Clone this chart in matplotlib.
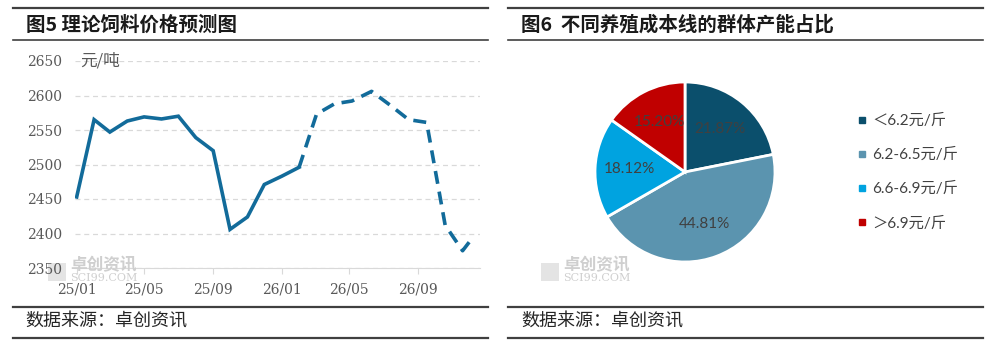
import matplotlib
matplotlib.use("Agg")
import matplotlib.pyplot as plt
import matplotlib.dates as mdates
from matplotlib.lines import Line2D
from matplotlib.patches import Rectangle
import pandas as pd

plt.rcParams["font.family"] = ["Noto Sans CJK SC", "DejaVu Sans"]

# %% data: 图5 理论饲料价格预测图 (元/吨)
actual_dates = [
    "2025-01-01", "2025-02-01", "2025-03-01", "2025-04-01", "2025-05-01",
    "2025-06-01", "2025-07-01", "2025-08-01", "2025-09-01", "2025-10-01",
    "2025-11-01", "2025-12-01", "2026-01-01", "2026-02-01",
]
actual_prices = [2453, 2565, 2547, 2563, 2569, 2566, 2570, 2539, 2520, 2406,
                 2424, 2471, 2483, 2496]

forecast_dates = [
    "2026-03-04", "2026-04-05", "2026-05-06", "2026-06-10", "2026-07-13",
    "2026-08-15", "2026-09-16", "2026-10-19", "2026-11-19", "2026-12-05",
]
forecast_prices = [2573, 2588, 2592, 2606, 2586, 2565, 2561, 2412, 2375, 2392]

x_ticks = ["2025-01-01", "2025-05-01", "2025-09-01",
           "2026-01-01", "2026-05-01", "2026-09-01"]
y_ticks = [2350, 2400, 2450, 2500, 2550, 2600, 2650]

# %% data: 图6 不同养殖成本线的群体产能占比
cost_groups = ["＜6.2元/斤", "6.2-6.5元/斤", "6.6-6.9元/斤", "＞6.9元/斤"]
shares = [21.87, 44.81, 18.12, 15.20]
share_colors = ["#0B4F6C", "#5B94AF", "#00A3E0", "#C00000"]

# %% layout helpers (pixel -> figure fraction)
W, H = 986, 343


def fx(x):
    return x / W


def fy(y):
    return 1 - y / H


fig = plt.figure(figsize=(W / 100, H / 100), dpi=100)

rule_color = "#404040"
for x0, x1 in [(13, 488), (508, 983)]:
    for y, lw in [(8, 1.6), (40, 1.2), (307, 1.6), (338, 1.6)]:
        fig.add_artist(Line2D([fx(x0), fx(x1)], [fy(y), fy(y)],
                              transform=fig.transFigure, color=rule_color, lw=lw))

fig.text(fx(26), fy(25), "图5 理论饲料价格预测图", fontsize=14, fontweight="bold",
         color="#1a1a1a", va="center", ha="left")
fig.text(fx(521), fy(25), "图6  不同养殖成本线的群体产能占比", fontsize=14,
         fontweight="bold", color="#1a1a1a", va="center", ha="left")
for x0 in (25, 521):
    fig.text(fx(x0), fy(322), "数据来源：卓创资讯", fontsize=13, color="#262626",
             va="center", ha="left")

# watermarks
for x0 in (70, 563):
    fig.add_artist(Rectangle((fx(x0 - 22), fy(281)), fx(18), 18 / H,
                             transform=fig.transFigure, facecolor="#e4e4e4",
                             edgecolor="none", hatch="...", zorder=0))
    fig.text(fx(x0), fy(265), "卓创资讯", fontsize=12, color="#cfcfcf",
             va="center", ha="left", fontweight="bold")
    fig.text(fx(x0), fy(278), "SCI99.COM", fontsize=8, color="#cfcfcf",
             va="center", ha="left", family="DejaVu Serif")

# %% line chart
ax1 = fig.add_axes([fx(75), fy(268), fx(480) - fx(75), fy(61) - fy(268)])
ax1.patch.set_alpha(0)
line_color = "#126B9A"
a_x = pd.to_datetime(actual_dates)
f_x = pd.to_datetime([actual_dates[-1]] + forecast_dates)
f_y = [actual_prices[-1]] + forecast_prices
ax1.plot(a_x, actual_prices, color=line_color, lw=2.6, solid_joinstyle="miter")
ax1.plot(f_x, f_y, color=line_color, lw=2.6, linestyle=(0, (3.6, 2.2)))

ax1.set_ylim(2350, 2650)
ax1.set_xlim(pd.Timestamp("2024-12-29"), pd.Timestamp("2026-12-20"))
ax1.set_yticks(y_ticks)
ax1.set_xticks(pd.to_datetime(x_ticks))
ax1.xaxis.set_major_formatter(mdates.DateFormatter("%y/%m"))
ax1.grid(axis="y", color="#d9d9d9", linestyle=(0, (4, 3)), lw=0.9)
ax1.set_axisbelow(True)
for side in ("top", "right", "left"):
    ax1.spines[side].set_visible(False)
ax1.spines["bottom"].set_color("#d9d9d9")
ax1.tick_params(axis="y", length=0, pad=9.5, labelsize=10, labelcolor="#595959")
ax1.tick_params(axis="x", length=4, color="#d9d9d9", pad=6.5, labelsize=10,
                labelcolor="#595959")
for lab in ax1.get_xticklabels() + ax1.get_yticklabels():
    lab.set_family("DejaVu Serif")
ax1.text(0.012, 1.0, "元/吨", transform=ax1.transAxes, fontsize=12,
         color="#595959", va="center", ha="left")

# %% pie chart
ax2 = fig.add_axes([fx(595), fy(262), fx(775) - fx(595), fy(82) - fy(262)])
wedges, _, autotexts = ax2.pie(
    shares, colors=share_colors, startangle=90, counterclock=False,
    autopct="%.2f%%", pctdistance=0.62,
    wedgeprops={"edgecolor": "white", "linewidth": 2},
    textprops={"fontsize": 11, "color": "#404040", "family": ["Lato", "DejaVu Sans"]},
)
ax2.set_xlim(-1, 1)
ax2.set_ylim(-1, 1)
ax2.set_aspect("equal")

handles = [Line2D([], [], marker="s", linestyle="", markersize=5, color=c)
           for c in share_colors]
fig.legend(handles, cost_groups, loc="center left",
           bbox_to_anchor=(fx(857), fy(172)), bbox_transform=fig.transFigure,
           frameon=False, handlelength=0.6, handletextpad=0.4, labelspacing=1.3,
           borderpad=0, borderaxespad=0,
           prop={"family": ["Lato", "Noto Sans CJK SC"], "size": 11},
           labelcolor="#404040")

fig.savefig("out.png", dpi=100)
